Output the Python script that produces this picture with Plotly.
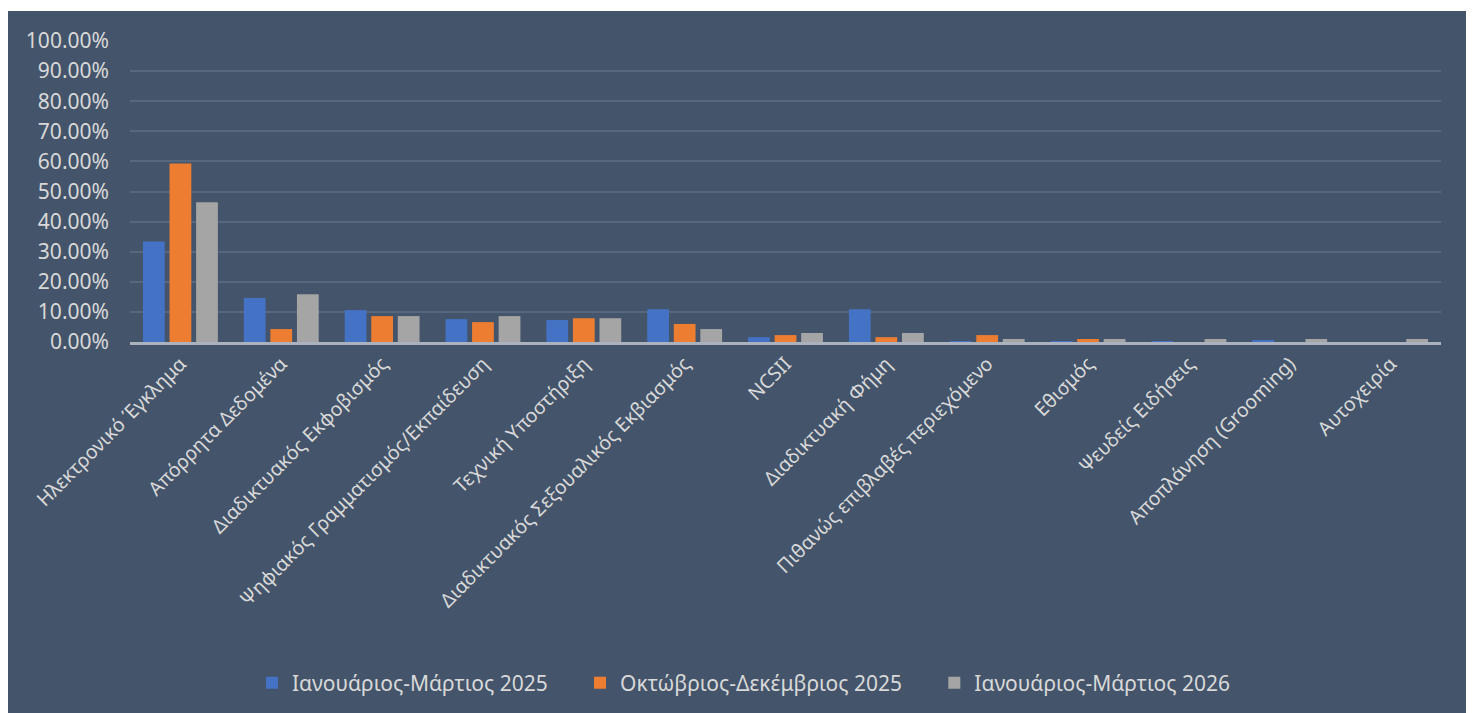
import plotly.graph_objects as go

categories = [
    "Ηλεκτρονικό Έγκλημα", "Απόρρητα Δεδομένα", "Διαδικτυακός Εκφοβισμός",
    "Ψηφιακός Γραμματισμός/Εκπαίδευση", "Τεχνική Υποστήριξη",
    "Διαδικτυακός Σεξουαλικός Εκβιασμός", "NCSII", "Διαδικτυακή Φήμη",
    "Πιθανώς επιβλαβές περιεχόμενο", "Εθισμός", "Ψευδείς Ειδήσεις",
    "Αποπλάνηση (Grooming)", "Αυτοχειρία",
]
series_names = ["Ιανουάριος-Μάρτιος 2025", "Οκτώβριος-Δεκέμβριος 2025", "Ιανουάριος-Μάρτιος 2026"]
jan_mar_2025 = [0.334, 0.146, 0.106, 0.076, 0.073, 0.109, 0.016, 0.109, 0.003, 0.003, 0.003, 0.005, 0.0]
oct_dec_2025 = [0.593, 0.043, 0.086, 0.066, 0.079, 0.060, 0.023, 0.016, 0.023, 0.010, 0.0, 0.0, 0.0]
jan_mar_2026 = [0.464, 0.159, 0.086, 0.086, 0.079, 0.043, 0.030, 0.030, 0.010, 0.010, 0.010, 0.010, 0.010]
y_ticks = [i / 10 for i in range(11)]
colors = ["#4472c4", "#ed7d31", "#a5a5a5"]

FONT = "Noto Sans"
TXT = "#d9d9d9"
BG = "#44546a"

fig = go.Figure()
n = len(series_names)
for i, (name, vals, c) in enumerate(zip(series_names, [jan_mar_2025, oct_dec_2025, jan_mar_2026], colors)):
    label = name + ("\u00a0" * 5 if i < n - 1 else "")
    fig.add_trace(go.Bar(x=categories, y=vals, name=label, marker=dict(color=c, line=dict(width=0))))

# page has an 8px body margin, so figure coords = page coords - 8
W, H = 1466, 705
ml, mr, mt, mb = 122, 33, 33, 370
pw, ph = W - ml - mr, H - mt - mb

def px_x(p):
    return (p - ml) / pw

def px_y(p):
    return (H - mb - p) / ph

# white strips at top and right (rest of the paper is the dark background)
fig.add_shape(type="rect", xref="paper", yref="paper",
              x0=px_x(0), x1=px_x(W), y0=px_y(3), y1=px_y(-1),
              fillcolor="white", line=dict(width=0), layer="below")
fig.add_shape(type="rect", xref="paper", yref="paper",
              x0=px_x(1463), x1=px_x(W + 1), y0=px_y(H + 1), y1=px_y(-1),
              fillcolor="white", line=dict(width=0), layer="below")

fig.update_layout(
    width=W, height=H,
    margin=dict(l=ml, r=mr, t=mt, b=mb, pad=0),
    paper_bgcolor=BG,
    plot_bgcolor="rgba(0,0,0,0)",
    barmode="group",
    bargap=0.21,
    bargroupgap=0.18,
    font=dict(family=FONT, color=TXT, size=20),
    legend=dict(orientation="h", x=px_x(736), xanchor="center", y=px_y(675), yanchor="middle",
                font=dict(size=21, color=TXT, family=FONT), bgcolor="rgba(0,0,0,0)",
                tracegroupgap=0),
    xaxis=dict(tickangle=-45, tickfont=dict(size=19.5, color=TXT), showgrid=False,
               showline=True, linecolor="#aab2bd", linewidth=2.5, ticks=""),
    yaxis=dict(range=[0, 1.0], tickvals=y_ticks, tickformat=".2%",
               tickfont=dict(size=21, color=TXT), gridcolor="#56677e", gridwidth=1.5,
               zeroline=False, showline=False, ticks="", ticklabelstandoff=20),
)

fig.write_html("out.html")
